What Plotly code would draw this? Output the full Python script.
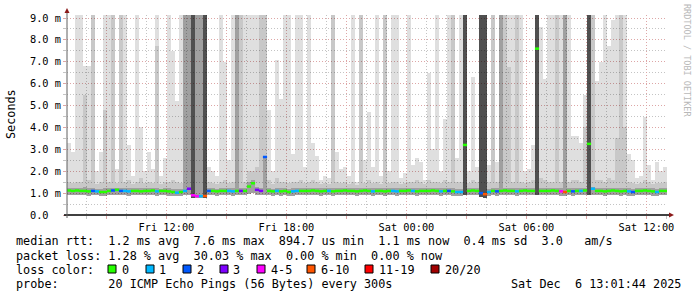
import plotly.graph_objects as go
import pandas as pd

F = 9.2   # column clipped at the top of the chart (pings above 9.1 ms)
N = None  # no value for this layer

# ---------------- data ----------------
t_start = "2025-12-05 07:01:44"
t_end = "2025-12-06 13:01:44"
col_minutes = 12
n_cols = 150

# highest ping per column (ms)
ping_max = [
    3.3, 2.9, F, F, 6.8, 6.8, F, 2.0, 2.9, F,
    F, F, 2.1, F, F, 3.2, 1.8, F, 4.0, 2.0,
    2.9, 2.1, F, 1.8, 2.6, F, 7.5, 5.2, F, F,
    F, F, F, F, F, 2.2, 2.0, 1.8, F, 7.0,
    2.5, F, F, F, F, F, F, F, F, F,
    4.8, 2.0, 7.1, 5.3, F, F, 2.8, F, F, 2.2,
    F, 3.3, 2.7, 1.6, 1.8, 1.7, F, 2.9, 2.1, 2.2,
    1.8, F, 1.5, F, 2.5, 4.7, 2.2, F, 1.8, F,
    2.0, F, F, 1.7, 1.9, F, 2.3, 2.6, 2.4, 1.6,
    6.5, 3.0, F, 2.0, 4.4, F, F, 2.6, F, F,
    2.0, 6.3, 2.2, F, F, 2.3, F, 2.4, F, F,
    F, F, F, F, 2.0, 2.1, 3.2, F, 8.6, 6.2,
    F, F, F, F, F, F, 3.6, 3.6, 3.3, 5.5,
    F, F, 6.1, 7.0, F, 7.7, 8.9, F, F, F,
    2.8, 2.5, 1.7, 1.8, 4.5, 2.3, 1.6, 2.4, 2.0, 2.2,
]
# 18th of 20 pings
ping_p90 = [
    1.5, 1.45, 1.5, 1.5, 5.5, 1.6, F, 1.4, 1.5, 4.8,
    1.5, F, 1.45, F, 1.5, 1.6, 1.4, 1.5, 1.7, 1.45,
    1.5, 1.45, 7.7, 1.4, 1.5, 1.5, 1.6, 1.5, 1.45, F,
    F, F, F, F, F, 1.5, 1.45, 1.4, 1.5, 1.6,
    1.45, 1.5, F, F, 1.5, 2.0, 2.0, 2.2, F, F,
    1.6, 1.4, 1.7, 1.5, 1.5, 1.45, 1.5, 1.5, 1.6, 1.45,
    1.5, 1.6, 1.5, 1.4, 1.45, 1.4, F, 1.5, 1.45, 1.5,
    1.4, 1.5, 1.35, F, 1.45, 1.6, 1.45, 1.5, 1.4, F,
    1.45, 1.5, 1.5, 1.4, 1.45, 1.5, 1.5, 1.6, 1.5, 1.4,
    1.6, 1.5, 1.5, 1.45, 1.6, 1.5, F, 1.5, 1.5, F,
    1.45, 1.6, 1.5, F, F, 1.5, F, 1.5, F, F,
    6.75, 1.5, F, 1.5, 1.45, 1.5, 1.6, F, 1.7, 1.6,
    1.5, 1.5, F, 1.5, F, 1.5, 1.6, 1.6, 1.5, 4.0,
    F, F, 1.6, 1.6, 1.5, 1.7, 1.6, 3.5, F, 4.0,
    1.5, 1.45, 1.4, 1.45, 1.6, 1.5, 1.4, 1.45, 1.45, 1.5,
]
# 15th of 20 pings
ping_p75 = [
    1.25, 1.22, 1.25, 1.25, 1.3, 1.25, 1.25, 1.2, 1.2, 1.25,
    1.25, 1.25, 1.25, 1.25, 1.22, 1.25, 1.22, 1.25, 1.25, 1.22,
    1.25, 1.25, 1.25, 1.2, 1.25, 1.25, 1.2, 1.18, 1.2, F,
    F, F, F, F, F, 1.25, 1.22, 1.2, 1.25, 1.25,
    1.25, 1.22, F, 1.25, 1.25, 1.5, 1.6, 1.3, 1.25, 2.65,
    1.25, 1.2, 1.25, 1.22, 1.25, 1.2, 1.22, 1.25, 1.25, 1.25,
    1.25, 1.25, 1.25, 1.22, 1.25, 1.25, 1.22, 1.25, 1.25, 1.25,
    1.25, 1.25, 1.22, 1.25, 1.25, 1.25, 1.22, 1.25, 1.25, 1.22,
    1.25, 1.25, 1.22, 1.25, 1.25, 1.25, 1.25, 1.22, 1.25, 1.25,
    1.25, 1.25, 1.25, 1.22, 1.25, 1.25, 1.22, 1.2, 1.2, F,
    1.25, 1.25, 1.25, F, F, 1.2, 1.25, 1.22, F, 1.25,
    1.25, 1.25, 1.22, 1.25, 1.25, 1.25, 1.25, F, 1.25, 1.25,
    1.25, 1.25, 1.25, 1.22, F, 1.25, 1.22, 1.25, 1.25, 1.25,
    F, 1.3, 1.25, 1.25, 1.22, 1.25, 1.25, 1.25, 1.22, 1.25,
    1.22, 1.2, 1.25, 1.25, 1.25, 1.25, 1.22, 1.2, 1.25, 1.25,
]
# 12th of 20 pings (only where it leaves the median band)
ping_p60 = [
    N, N, N, N, N, N, N, N, N, N,
    N, N, N, N, N, N, N, N, N, N,
    N, N, N, N, N, N, N, N, N, N,
    N, F, N, N, F, N, N, N, N, N,
    N, N, N, N, N, N, N, N, N, N,
    N, N, N, N, N, N, N, N, N, N,
    N, N, N, N, N, N, N, N, N, N,
    N, N, N, N, N, N, N, N, N, N,
    N, N, N, N, N, N, N, N, N, N,
    N, N, N, N, N, N, N, N, N, F,
    N, N, N, F, F, N, N, N, N, N,
    N, N, N, N, N, N, N, F, N, N,
    N, N, N, N, N, N, N, N, N, N,
    F, N, N, N, N, N, N, N, N, N,
    N, N, N, N, N, N, N, N, N, N,
]
# lowest ping per column
ping_min = [
    0.92, 0.9, 0.92, 0.9, 0.9, 0.89, 0.9, 0.9, 0.88, 0.89,
    0.9, 0.92, 0.92, 0.9, 0.9, 0.89, 0.9, 0.92, 0.9, 0.9,
    0.9, 0.92, 0.89, 0.9, 0.9, 0.88, 0.87, 0.86, 0.87, 0.9,
    0.92, 0.78, 0.76, 0.76, 0.77, 0.9, 0.9, 0.89, 0.9, 0.9,
    0.9, 0.89, 0.9, 0.9, 0.9, 0.97, 1.02, 0.92, 0.9, 0.9,
    0.9, 0.89, 0.9, 0.89, 0.9, 0.87, 0.89, 0.9, 0.9, 0.9,
    0.9, 0.92, 0.9, 0.89, 0.9, 0.9, 0.89, 0.9, 0.9, 0.92,
    0.9, 0.9, 0.89, 0.9, 0.92, 0.9, 0.89, 0.9, 0.9, 0.89,
    0.9, 0.9, 0.89, 0.9, 0.9, 0.92, 0.9, 0.89, 0.9, 0.9,
    0.9, 0.92, 0.9, 0.89, 0.9, 0.9, 0.89, 0.87, 0.87, 0.9,
    0.9, 0.92, 0.9, 0.8, 0.76, 0.87, 0.9, 0.89, 0.9, 0.92,
    0.9, 0.9, 0.89, 0.9, 0.92, 0.9, 0.9, 0.9, 0.9, 0.9,
    0.9, 0.92, 0.9, 0.87, 0.86, 0.9, 0.89, 0.9, 0.9, 0.92,
    0.9, 0.92, 0.9, 0.9, 0.89, 0.9, 0.92, 0.9, 0.89, 0.9,
    0.89, 0.87, 0.9, 0.9, 0.92, 0.9, 0.89, 0.87, 0.9, 0.9,
]
# median rtt (ms)
median_ms = [
    1.12, 1.10, 1.12, 1.10, 1.10, 1.08, 1.10, 1.08, 1.05, 1.05,
    1.10, 1.12, 1.15, 1.10, 1.10, 1.08, 1.10, 1.10, 1.08, 1.10,
    1.10, 1.12, 1.08, 1.10, 1.10, 1.08, 1.05, 1.02, 1.05, 1.10,
    1.20, 0.90, 0.86, 0.86, 0.87, 1.10, 1.10, 1.08, 1.10, 1.10,
    1.10, 1.08, 1.10, 1.10, 1.10, 1.30, 1.45, 1.15, 1.10, 2.65,
    1.10, 1.08, 1.10, 1.08, 1.10, 1.05, 1.08, 1.10, 1.10, 1.10,
    1.10, 1.12, 1.10, 1.08, 1.10, 1.10, 1.08, 1.10, 1.10, 1.12,
    1.10, 1.10, 1.08, 1.10, 1.12, 1.10, 1.08, 1.10, 1.10, 1.08,
    1.10, 1.10, 1.08, 1.10, 1.10, 1.12, 1.10, 1.08, 1.10, 1.10,
    1.10, 1.12, 1.10, 1.08, 1.10, 1.10, 1.08, 1.05, 1.05, 3.20,
    1.10, 1.12, 1.10, 1.00, 0.95, 1.05, 1.10, 1.08, 1.10, 1.12,
    1.10, 1.10, 1.08, 1.10, 1.12, 1.10, 1.10, 7.60, 1.10, 1.10,
    1.10, 1.12, 1.10, 1.08, 1.05, 1.10, 1.08, 1.10, 1.10, 1.12,
    3.25, 1.20, 1.10, 1.10, 1.08, 1.10, 1.12, 1.10, 1.08, 1.10,
    1.08, 1.05, 1.10, 1.10, 1.12, 1.10, 1.08, 1.05, 1.10, 1.10,
]
# loss class per column (index into loss_labels)
loss_idx = [
    0, 0, 0, 0, 0, 0, 2, 1, 0, 0,
    0, 2, 0, 2, 1, 1, 0, 0, 0, 0,
    0, 0, 1, 0, 0, 0, 0, 1, 0, 1,
    3, 4, 4, 1, 5, 2, 0, 0, 0, 0,
    1, 1, 0, 3, 0, 0, 0, 3, 3, 2,
    0, 0, 1, 0, 0, 0, 1, 1, 0, 0,
    0, 0, 0, 0, 0, 1, 0, 0, 0, 0,
    0, 0, 0, 0, 0, 0, 1, 0, 0, 0,
    0, 1, 1, 0, 0, 0, 1, 0, 0, 0,
    0, 0, 0, 1, 0, 2, 0, 1, 1, 0,
    0, 0, 0, 2, 5, 1, 0, 2, 0, 0,
    0, 0, 1, 0, 0, 0, 0, 0, 0, 0,
    0, 0, 0, 4, 5, 0, 2, 0, 1, 0,
    0, 1, 0, 0, 0, 0, 0, 0, 0, 0,
    1, 2, 0, 0, 0, 0, 0, 1, 0, 0,
]

loss_labels = ["0", "1", "2", "3", "4-5", "6-10", "11-19", "20/20"]
loss_colors = ["#26ff00", "#00b8ff", "#0059ff", "#7e00ff",
               "#ff00ff", "#ff5500", "#ff0000", "#a10000"]

y_tickvals = [0, 1, 2, 3, 4, 5, 6, 7, 8, 9]
y_ticktext = ["0.0\u00a0\u00a0", "1.0 m", "2.0 m", "3.0 m", "4.0 m",
              "5.0 m", "6.0 m", "7.0 m", "8.0 m", "9.0 m"]
x_tickvals = ["2025-12-05 09:00", "2025-12-05 12:00", "2025-12-05 15:00",
              "2025-12-05 18:00", "2025-12-05 21:00", "2025-12-06 00:00",
              "2025-12-06 03:00", "2025-12-06 06:00", "2025-12-06 09:00",
              "2025-12-06 12:00"]
x_ticktext = ["", "Fri 12:00", "", "Fri 18:00", "", "Sat 00:00", "",
              "Sat 06:00", "", "Sat 12:00"]

stats_rtt = "median rtt:  1.2 ms avg  7.6 ms max  894.7 us min  1.1 ms now  0.4 ms sd  3.0   am/s"
stats_loss = "packet loss: 1.28 % avg  30.03 % max  0.00 % min  0.00 % now"
probe_text = "probe:       20 ICMP Echo Pings (56 Bytes) every 300s"
stamp_text = "Sat Dec  6 13:01:44 2025"

# ---------------- figure ----------------
times = pd.date_range(pd.Timestamp(t_start) + pd.Timedelta(minutes=col_minutes / 2),
                      periods=n_cols, freq=f"{col_minutes}min")
xs = [t.strftime("%Y-%m-%d %H:%M:%S") for t in times]
bar_w = col_minutes * 60 * 1000

def heights(layer):
    return [None if v is None else max(0.0, v - b) for v, b in zip(layer, ping_min)]

mono = "DejaVu Sans Mono"
fig = go.Figure()
for layer, alpha in [(ping_max, 0.125), (ping_p90, 0.1), (ping_p75, 0.2), (ping_p60, 0.5)]:
    fig.add_trace(go.Bar(x=xs, y=heights(layer), base=ping_min, width=bar_w,
                         marker=dict(color=f"rgba(0,0,0,{alpha})", line=dict(width=0)),
                         hoverinfo="skip", showlegend=False))

fig.add_trace(go.Scatter(
    x=xs, y=median_ms, mode="markers", showlegend=False, hoverinfo="skip",
    marker=dict(symbol="line-ew", size=3,
                line=dict(width=2.5, color=[loss_colors[i] for i in loss_idx]))))

L, R, T, B = 67, 667, 15, 215
def px(x):
    return (x - L) / (R - L)
def py(y):
    return (B - y) / (B - T)

major_grid = "#dda6a6"
minor_grid = "#c4c4c4"
fig.update_layout(
    width=697, height=297, autosize=False,
    margin=dict(l=L, r=697 - R, t=T, b=297 - B, autoexpand=False),
    paper_bgcolor="white", plot_bgcolor="white",
    barmode="overlay", bargap=0,
    font=dict(family=mono, size=10.3, color="black"),
    xaxis=dict(type="date", range=[t_start, t_end],
               tickmode="array", tickvals=x_tickvals, ticktext=x_ticktext,
               showgrid=True, gridcolor=major_grid, griddash="1px,2px", gridwidth=1,
               ticks="outside", ticklen=3, tickcolor=major_grid,
               showline=False, zeroline=False,
               tickfont=dict(family=mono, size=10.3, color="black"),
               minor=dict(tickmode="linear", tick0="2025-12-05 08:00", dtick=3600000,
                          showgrid=True, gridcolor=minor_grid, griddash="1px,2px",
                          ticks="outside", ticklen=3, tickcolor=minor_grid)),
    yaxis=dict(range=[0, 9.137], tickmode="array", tickvals=y_tickvals, ticktext=y_ticktext,
               showgrid=True, gridcolor=major_grid, griddash="1px,2px", gridwidth=1,
               ticks="outside", ticklen=3, tickcolor=major_grid,
               showline=False, zeroline=False,
               tickfont=dict(family=mono, size=10.3, color="black"),
               minor=dict(tickmode="linear", tick0=0.5, dtick=1,
                          showgrid=True, gridcolor=minor_grid, griddash="1px,2px",
                          ticks="outside", ticklen=3, tickcolor=minor_grid)),
)

shapes = [
    # axes
    dict(type="line", xref="paper", yref="paper", x0=px(64), x1=px(670), y0=py(215), y1=py(215),
         line=dict(color="black", width=1.3)),
    dict(type="line", xref="paper", yref="paper", x0=px(67), x1=px(67), y0=py(218), y1=py(11),
         line=dict(color="#606060", width=1)),
    # arrows
    dict(type="path", xref="paper", yref="paper",
         path=f"M {px(64.5)} {py(13)} L {px(69.5)} {py(13)} L {px(67)} {py(8)} Z",
         fillcolor="#8b1a1a", line=dict(width=0)),
    dict(type="path", xref="paper", yref="paper",
         path=f"M {px(669)} {py(212.5)} L {px(669)} {py(217.5)} L {px(674)} {py(215)} Z",
         fillcolor="#8b1a1a", line=dict(width=0)),
]

def ann(text, x, y, size=11.8, anchor="left", color="black", angle=0):
    return dict(text=text.replace(" ", "\u00a0"), x=px(x), y=py(y), xref="paper", yref="paper",
                xanchor=anchor, yanchor="middle", showarrow=False, textangle=angle,
                borderpad=0, font=dict(family=mono, size=size, color=color))

annotations = [
    ann("Seconds", 11, 114, size=11.8, anchor="center", angle=-90),
    ann("RRDTOOL / TOBI OETIKER", 687, 60, size=8.5, anchor="center", color="#b8b8b8", angle=90),
    ann(stats_rtt, 15, 241),
    ann(stats_loss, 15, 255.5),
    ann("loss color:", 15, 269.5),
    ann(probe_text, 15, 283.5),
    ann(stamp_text, 682, 283.5, anchor="right"),
]
box_x = [108, 146, 183, 220, 257, 307, 365, 431]
lab_x = [121, 158, 196, 232, 270, 320, 378, 444]
for lab, col, bx, lx in zip(loss_labels, loss_colors, box_x, lab_x):
    shapes.append(dict(type="rect", xref="paper", yref="paper",
                       x0=px(bx), x1=px(bx + 8), y0=py(273), y1=py(265),
                       fillcolor=col, line=dict(color="black", width=1)))
    annotations.append(ann(lab, lx, 269.5))

fig.update_layout(shapes=shapes, annotations=annotations)
fig.write_html("out.html")
